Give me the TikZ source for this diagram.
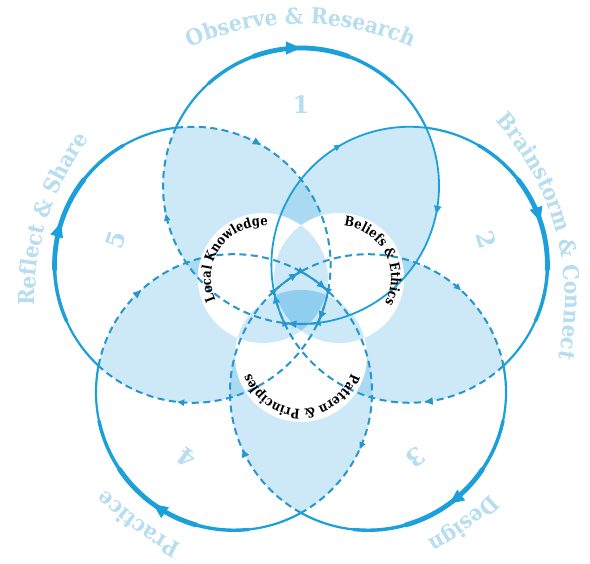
\documentclass[tikz,border=0pt]{standalone}
\usepackage{fontspec}
\setmainfont{DejaVu Serif}
\newfontfamily\labelfam[FakeStretch=0.92]{DejaVu Serif}
\newfontfamily\innerfam[FakeStretch=0.85]{DejaVu Serif}
\usetikzlibrary{arrows.meta, decorations.markings, decorations.text}

\definecolor{loopblue}{HTML}{1BA0DB}
\definecolor{dashblue}{HTML}{2597CC}
\definecolor{lensblue}{HTML}{CDE9F7}
\definecolor{midblue}{HTML}{AADAF2}
\definecolor{coreblue}{HTML}{8FCEEE}
\definecolor{labelblue}{HTML}{B7DDF0}

\newcommand{\outerfont}{\labelfam\fontsize{22}{22}\selectfont\bfseries\color{labelblue}}
\newcommand{\innerfont}{\innerfam\fontsize{13.5}{13.5}\selectfont\bfseries}

\begin{document}
\begin{tikzpicture}[
    x=1pt, y=1pt,
    outerline/.style={draw=loopblue, line cap=round},
    solidlens/.style={draw=loopblue, line width=1.8pt},
    dashlens/.style={draw=dashblue, line width=2pt, dash pattern=on 7pt off 4.5pt},
    tipsat/.style 2 args={postaction={decorate}, decoration={markings,
        mark=at position #1 with {\arrow{Triangle[length=8pt,width=7pt]}},
        mark=at position #2 with {\arrow{Triangle[length=7pt,width=6pt]}}}},
    bigtip/.style={postaction={decorate}, decoration={markings, mark=at position 0.5 with {\arrow{Triangle[length=15pt,width=12pt]}}}},
    numlabel/.style={text=labelblue, font=\fontsize{24}{24}\selectfont\bfseries}
]
    \useasboundingbox (-301,-264) rectangle (289,300);
    \fill[white] (-301,-264) rectangle (289,300);

    % centres of the five loops
    \foreach \k in {1,...,5}{
        \coordinate (c\k) at ({90-72*(\k-1)}:114pt);
    }

    % shaded lenses between neighbouring loops
    \foreach \k [evaluate=\k as \nxt using {int(mod(\k,5)+1)}] in {1,...,5}{
        \begin{scope}
            \clip (c\k) circle (138pt);
            \fill[lensblue] (c\nxt) circle (138pt);
        \end{scope}
    }
    \foreach \k [evaluate=\k as \nxt using {int(mod(\k,5)+1)}, evaluate=\k as \prv using {int(mod(\k+3,5)+1)}] in {1,...,5}{
        \begin{scope}
            \clip (c\prv) circle (138pt);
            \clip (c\k) circle (138pt);
            \fill[midblue] (c\nxt) circle (138pt);
        \end{scope}
    }

    % the three inner discs
    \coordinate (local) at (150:44pt);
    \coordinate (beliefs) at (30:44pt);
    \coordinate (pattern) at (270:56pt);
    \fill[white] (local) circle (65pt) (beliefs) circle (65pt) (pattern) circle (66pt);
    \foreach \a/\ra/\b/\rb in {local/65/beliefs/65, beliefs/65/pattern/66, pattern/66/local/65}{
        \begin{scope}
            \clip (\a) circle (\ra pt);
            \fill[lensblue] (\b) circle (\rb pt);
        \end{scope}
    }
    \begin{scope}
        \clip (local) circle (65pt);
        \clip (beliefs) circle (65pt);
        \fill[coreblue] (pattern) circle (66pt);
    \end{scope}

    % lens outlines
    \foreach \k/\lensstyle in {1/solidlens, 2/dashlens, 3/dashlens, 4/dashlens, 5/dashlens}{
        \pgfmathsetmacro\ang{90-72*(\k-1)}
        \pgfmathtruncatemacro\nxt{mod(\k,5)+1}
        \draw[\lensstyle, tipsat={0.3}{0.9}] (c\k) ++({\ang-65.05}:138pt)
            arc[start angle=\ang-65.05, end angle=\ang-186.95, radius=138pt];
        \draw[\lensstyle, tipsat={0.1}{0.7}] (c\nxt) ++({\ang+114.95}:138pt)
            arc[start angle=\ang+114.95, end angle=\ang-6.95, radius=138pt];
    }

    % outer arcs, thicker in the middle
    \foreach \k in {1,...,5}{
        \pgfmathsetmacro\ang{90-72*(\k-1)}
        \draw[outerline, line width=2.2pt] (c\k) ++({\ang+65.05}:138pt)
            arc[start angle=\ang+65.05, end angle=\ang-65.05, radius=138pt];
        \draw[outerline, line width=3.4pt] (c\k) ++({\ang+42}:138pt)
            arc[start angle=\ang+42, end angle=\ang-42, radius=138pt];
        \draw[outerline, line width=4.8pt, bigtip] (c\k) ++({\ang+20}:138pt)
            arc[start angle=\ang+20, end angle=\ang-20, radius=138pt];
    }

    % step numbers
    \foreach \k in {1,...,5}{
        \node[numlabel, rotate={-72*(\k-1)}] (num\k) at ({90-72*(\k-1)}:195pt) {\k};
    }

    % outer labels
    \path[decorate, decoration={text along path, text align=center, text={|\outerfont|Observe {\&} Research}}]
        (165:276pt) arc[start angle=165, end angle=15, radius=276pt];
    \path[decorate, decoration={text along path, text align=center, text={|\outerfont|Brainstorm {\&} Connect}}]
        (90:264pt) arc[start angle=90, end angle=-60, radius=264pt];
    \path[decorate, decoration={text along path, text align=center, text={|\outerfont|Design}}]
        (21:272pt) arc[start angle=21, end angle=-129, radius=272pt];
    \path[decorate, decoration={text along path, text align=center, text={|\outerfont|Practice}}]
        (-51:272pt) arc[start angle=-51, end angle=-201, radius=272pt];
    \path[decorate, decoration={text along path, text align=center, text={|\outerfont|Reflect {\&} Share}}]
        (237:266pt) arc[start angle=237, end angle=87, radius=266pt];

    % inner labels
    \path[decorate, decoration={text along path, text align=center, text={|\innerfont|Local Knowledge}}]
        (local) ++(245:52pt) arc[start angle=245, end angle=45, radius=52pt];
    \path[decorate, decoration={text along path, text align=center, text={|\innerfont|Beliefs {\&} Ethics}}]
        (beliefs) ++(128:52pt) arc[start angle=128, end angle=-72, radius=52pt];
    \path[decorate, decoration={text along path, text align=center, text={|\innerfont|Pattern {\&} Principles}}]
        (pattern) ++(0:53pt) arc[start angle=0, end angle=-180, radius=53pt];
\end{tikzpicture}
\end{document}
